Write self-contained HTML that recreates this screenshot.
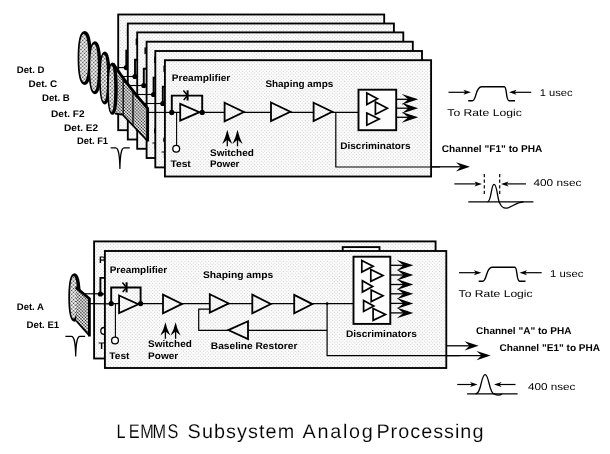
<!DOCTYPE html>
<html lang="en"><head><meta charset="utf-8"><title>LEMMS Subsystem Analog Processing</title>
<style>html,body{margin:0;padding:0;background:#fff}svg{display:block;will-change:transform;filter:grayscale(1)}text{fill:#000;text-rendering:geometricPrecision}</style></head><body>
<svg width="610" height="454" viewBox="0 0 610 454">
<defs>
<pattern id="lt" width="2.4" height="2.4" patternUnits="userSpaceOnUse" patternTransform="rotate(45)"><rect width="2.4" height="2.4" fill="#fdfdfd"/><circle cx="1.2" cy="1.2" r="0.58" fill="#cbcbcb"/></pattern>
<pattern id="dk" width="2.2" height="2.2" patternUnits="userSpaceOnUse" patternTransform="rotate(45)"><rect width="2.2" height="2.2" fill="#fff"/><circle cx="1.1" cy="1.1" r="0.82" fill="#111"/></pattern>
<pattern id="md" width="2.6" height="2.6" patternUnits="userSpaceOnUse" patternTransform="rotate(45)"><rect width="2.6" height="2.6" fill="#fff"/><circle cx="1.3" cy="1.3" r="0.82" fill="#383838"/></pattern>
</defs>
<rect width="610" height="454" fill="#fff"/>
<rect x="118.2" y="14.5" width="266.0" height="115.7" fill="url(#lt)" stroke="#000" stroke-width="1.85"/>
<clipPath id="ct0"><rect x="118.2" y="14.5" width="266.0" height="115.7"/></clipPath>
<g clip-path="url(#ct0)">
<g transform="translate(-45.5 -44.8)">
<text x="171.8" y="80.8" font-size="9.6" font-weight="bold" font-family='"Liberation Sans", sans-serif' textLength="58.5" lengthAdjust="spacingAndGlyphs" >Preamplifier</text>
<path d="M171.8 112.4L171.8 95.6L202.2 95.6L202.2 112.4" stroke="#000" stroke-width="1.9" fill="none" />
<path d="M187.6 90.3L187.6 100.5" stroke="#000" stroke-width="2.0" fill="none" />
<path d="M183.4 90.6L187.6 95.6L183.7 100" stroke="#000" stroke-width="1.5" fill="none" />
<path d="M176.6 112.4L176.6 145.3" stroke="#000" stroke-width="1.1" fill="none" />
<circle cx="176.2" cy="148.8" r="3.4" fill="#fff" stroke="#000" stroke-width="1.3"/>
<text x="170.4" y="166.7" font-size="9.6" font-weight="bold" font-family='"Liberation Sans", sans-serif' textLength="20.4" lengthAdjust="spacingAndGlyphs" >Test</text>
<path d="M171.8 112.4L358.5 112.4" stroke="#000" stroke-width="1.35" fill="none" />
<path d="M180.2 103.8L199.5 112.2L180.2 120.6Z" fill="url(#lt)" stroke="#000" stroke-width="1.8" stroke-linejoin="miter"/>
<circle cx="171.8" cy="112.4" r="2.6" fill="#000"/>
<circle cx="202.2" cy="112.4" r="2.6" fill="#000"/>
</g>
</g>
<rect x="127.8" y="23.5" width="266.1" height="116.0" fill="url(#lt)" stroke="#000" stroke-width="1.85"/>
<clipPath id="ct1"><rect x="127.8" y="23.5" width="266.1" height="116.0"/></clipPath>
<g clip-path="url(#ct1)">
<g transform="translate(-36.8 -35.9)">
<text x="171.8" y="80.8" font-size="9.6" font-weight="bold" font-family='"Liberation Sans", sans-serif' textLength="58.5" lengthAdjust="spacingAndGlyphs" >Preamplifier</text>
<path d="M171.8 112.4L171.8 95.6L202.2 95.6L202.2 112.4" stroke="#000" stroke-width="1.9" fill="none" />
<path d="M187.6 90.3L187.6 100.5" stroke="#000" stroke-width="2.0" fill="none" />
<path d="M183.4 90.6L187.6 95.6L183.7 100" stroke="#000" stroke-width="1.5" fill="none" />
<path d="M176.6 112.4L176.6 145.3" stroke="#000" stroke-width="1.1" fill="none" />
<circle cx="176.2" cy="148.8" r="3.4" fill="#fff" stroke="#000" stroke-width="1.3"/>
<text x="170.4" y="166.7" font-size="9.6" font-weight="bold" font-family='"Liberation Sans", sans-serif' textLength="20.4" lengthAdjust="spacingAndGlyphs" >Test</text>
<path d="M171.8 112.4L358.5 112.4" stroke="#000" stroke-width="1.35" fill="none" />
<path d="M180.2 103.8L199.5 112.2L180.2 120.6Z" fill="url(#lt)" stroke="#000" stroke-width="1.8" stroke-linejoin="miter"/>
<circle cx="171.8" cy="112.4" r="2.6" fill="#000"/>
<circle cx="202.2" cy="112.4" r="2.6" fill="#000"/>
</g>
</g>
<rect x="137.2" y="32.4" width="266.1" height="116.4" fill="url(#lt)" stroke="#000" stroke-width="1.85"/>
<clipPath id="ct2"><rect x="137.2" y="32.4" width="266.1" height="116.4"/></clipPath>
<g clip-path="url(#ct2)">
<g transform="translate(-28.0 -26.9)">
<text x="171.8" y="80.8" font-size="9.6" font-weight="bold" font-family='"Liberation Sans", sans-serif' textLength="58.5" lengthAdjust="spacingAndGlyphs" >Preamplifier</text>
<path d="M171.8 112.4L171.8 95.6L202.2 95.6L202.2 112.4" stroke="#000" stroke-width="1.9" fill="none" />
<path d="M187.6 90.3L187.6 100.5" stroke="#000" stroke-width="2.0" fill="none" />
<path d="M183.4 90.6L187.6 95.6L183.7 100" stroke="#000" stroke-width="1.5" fill="none" />
<path d="M176.6 112.4L176.6 145.3" stroke="#000" stroke-width="1.1" fill="none" />
<circle cx="176.2" cy="148.8" r="3.4" fill="#fff" stroke="#000" stroke-width="1.3"/>
<text x="170.4" y="166.7" font-size="9.6" font-weight="bold" font-family='"Liberation Sans", sans-serif' textLength="20.4" lengthAdjust="spacingAndGlyphs" >Test</text>
<path d="M171.8 112.4L358.5 112.4" stroke="#000" stroke-width="1.35" fill="none" />
<path d="M180.2 103.8L199.5 112.2L180.2 120.6Z" fill="url(#lt)" stroke="#000" stroke-width="1.8" stroke-linejoin="miter"/>
<circle cx="171.8" cy="112.4" r="2.6" fill="#000"/>
<circle cx="202.2" cy="112.4" r="2.6" fill="#000"/>
</g>
</g>
<rect x="146.6" y="41.7" width="266.2" height="116.3" fill="url(#lt)" stroke="#000" stroke-width="1.85"/>
<clipPath id="ct3"><rect x="146.6" y="41.7" width="266.2" height="116.3"/></clipPath>
<g clip-path="url(#ct3)">
<g transform="translate(-18.2 -17.9)">
<text x="171.8" y="80.8" font-size="9.6" font-weight="bold" font-family='"Liberation Sans", sans-serif' textLength="58.5" lengthAdjust="spacingAndGlyphs" >Preamplifier</text>
<path d="M171.8 112.4L171.8 95.6L202.2 95.6L202.2 112.4" stroke="#000" stroke-width="1.9" fill="none" />
<path d="M187.6 90.3L187.6 100.5" stroke="#000" stroke-width="2.0" fill="none" />
<path d="M183.4 90.6L187.6 95.6L183.7 100" stroke="#000" stroke-width="1.5" fill="none" />
<path d="M176.6 112.4L176.6 145.3" stroke="#000" stroke-width="1.1" fill="none" />
<circle cx="176.2" cy="148.8" r="3.4" fill="#fff" stroke="#000" stroke-width="1.3"/>
<text x="170.4" y="166.7" font-size="9.6" font-weight="bold" font-family='"Liberation Sans", sans-serif' textLength="20.4" lengthAdjust="spacingAndGlyphs" >Test</text>
<path d="M171.8 112.4L358.5 112.4" stroke="#000" stroke-width="1.35" fill="none" />
<path d="M180.2 103.8L199.5 112.2L180.2 120.6Z" fill="url(#lt)" stroke="#000" stroke-width="1.8" stroke-linejoin="miter"/>
<circle cx="171.8" cy="112.4" r="2.6" fill="#000"/>
<circle cx="202.2" cy="112.4" r="2.6" fill="#000"/>
</g>
</g>
<rect x="155.3" y="51.0" width="266.7" height="116.4" fill="url(#lt)" stroke="#000" stroke-width="1.85"/>
<clipPath id="ct4"><rect x="155.3" y="51.0" width="266.7" height="116.4"/></clipPath>
<g clip-path="url(#ct4)">
<g transform="translate(-9.0 -8.9)">
<text x="171.8" y="80.8" font-size="9.6" font-weight="bold" font-family='"Liberation Sans", sans-serif' textLength="58.5" lengthAdjust="spacingAndGlyphs" >Preamplifier</text>
<path d="M171.8 112.4L171.8 95.6L202.2 95.6L202.2 112.4" stroke="#000" stroke-width="1.9" fill="none" />
<path d="M187.6 90.3L187.6 100.5" stroke="#000" stroke-width="2.0" fill="none" />
<path d="M183.4 90.6L187.6 95.6L183.7 100" stroke="#000" stroke-width="1.5" fill="none" />
<path d="M176.6 112.4L176.6 145.3" stroke="#000" stroke-width="1.1" fill="none" />
<circle cx="176.2" cy="148.8" r="3.4" fill="#fff" stroke="#000" stroke-width="1.3"/>
<text x="170.4" y="166.7" font-size="9.6" font-weight="bold" font-family='"Liberation Sans", sans-serif' textLength="20.4" lengthAdjust="spacingAndGlyphs" >Test</text>
<path d="M171.8 112.4L358.5 112.4" stroke="#000" stroke-width="1.35" fill="none" />
<path d="M180.2 103.8L199.5 112.2L180.2 120.6Z" fill="url(#lt)" stroke="#000" stroke-width="1.8" stroke-linejoin="miter"/>
<circle cx="171.8" cy="112.4" r="2.6" fill="#000"/>
<circle cx="202.2" cy="112.4" r="2.6" fill="#000"/>
</g>
</g>
<rect x="164.9" y="60.2" width="266.2" height="116.3" fill="url(#lt)" stroke="#000" stroke-width="1.85"/>
<clipPath id="ct5"><rect x="164.9" y="60.2" width="266.2" height="116.3"/></clipPath>
<g>
<g transform="translate(0.0 0.0)">
<text x="171.8" y="80.8" font-size="9.6" font-weight="bold" font-family='"Liberation Sans", sans-serif' textLength="58.5" lengthAdjust="spacingAndGlyphs" >Preamplifier</text>
<path d="M171.8 112.4L171.8 95.6L202.2 95.6L202.2 112.4" stroke="#000" stroke-width="1.9" fill="none" />
<path d="M187.6 90.3L187.6 100.5" stroke="#000" stroke-width="2.0" fill="none" />
<path d="M183.4 90.6L187.6 95.6L183.7 100" stroke="#000" stroke-width="1.5" fill="none" />
<path d="M176.6 112.4L176.6 145.3" stroke="#000" stroke-width="1.1" fill="none" />
<circle cx="176.2" cy="148.8" r="3.4" fill="#fff" stroke="#000" stroke-width="1.3"/>
<text x="170.4" y="166.7" font-size="9.6" font-weight="bold" font-family='"Liberation Sans", sans-serif' textLength="20.4" lengthAdjust="spacingAndGlyphs" >Test</text>
<path d="M171.8 112.4L358.5 112.4" stroke="#000" stroke-width="1.35" fill="none" />
<path d="M180.2 103.8L199.5 112.2L180.2 120.6Z" fill="url(#lt)" stroke="#000" stroke-width="1.8" stroke-linejoin="miter"/>
<circle cx="171.8" cy="112.4" r="2.6" fill="#000"/>
<circle cx="202.2" cy="112.4" r="2.6" fill="#000"/>
<path d="M224.6 102.7L243.9 112.0L224.6 121.3Z" fill="url(#lt)" stroke="#000" stroke-width="1.8" stroke-linejoin="miter"/>
<path d="M271.0 102.5L290.3 111.8L271.0 121.0Z" fill="url(#lt)" stroke="#000" stroke-width="1.8" stroke-linejoin="miter"/>
<path d="M313.6 102.7L332.2 111.8L313.6 121.0Z" fill="url(#lt)" stroke="#000" stroke-width="1.8" stroke-linejoin="miter"/>
<path d="M227.3 129.7Q228.8 136.7 232.3 143.9L227.3 139.7L222.3 143.9Q225.8 136.7 227.3 129.7Z" fill="#000"/>
<path d="M227.3 138.9L227.3 146.3" stroke="#000" stroke-width="1.3" fill="none" />
<path d="M237.5 129.7Q239.0 136.7 242.5 143.9L237.5 139.7L232.5 143.9Q236.0 136.7 237.5 129.7Z" fill="#000"/>
<path d="M237.5 138.9L237.5 146.3" stroke="#000" stroke-width="1.3" fill="none" />
<text x="210.0" y="156.0" font-size="9.6" font-weight="bold" font-family='"Liberation Sans", sans-serif' textLength="43.8" lengthAdjust="spacingAndGlyphs" >Switched</text>
<text x="210.0" y="167.4" font-size="9.6" font-weight="bold" font-family='"Liberation Sans", sans-serif' textLength="29.4" lengthAdjust="spacingAndGlyphs" >Power</text>
<text x="265.4" y="86.5" font-size="9.6" font-weight="bold" font-family='"Liberation Sans", sans-serif' textLength="67.9" lengthAdjust="spacingAndGlyphs" >Shaping amps</text>
<path d="M335.8 112.4L335.8 167L440 167" stroke="#000" stroke-width="1.2" fill="none" />
<rect x="358.5" y="89.7" width="37.7" height="40.5" fill="#fdfdfd" stroke="#000" stroke-width="1.9"/>
<path d="M366.8 92.9L377.5 98.7L366.8 104.5Z" fill="#fdfdfd" stroke="#000" stroke-width="1.7" stroke-linejoin="miter"/>
<path d="M375.4 102.0L387.4 108.2L375.4 114.4Z" fill="#fdfdfd" stroke="#000" stroke-width="1.7" stroke-linejoin="miter"/>
<path d="M366.8 113.0L379.2 119.1L366.8 125.2Z" fill="#fdfdfd" stroke="#000" stroke-width="1.7" stroke-linejoin="miter"/>
<path d="M396.2 99.3L409.9 99.3" stroke="#000" stroke-width="1.3" fill="none" />
<path d="M418.2 99.3L401.7 93.9L408.3 99.3L401.7 104.7Z" fill="#000"/>
<path d="M396.2 108.2L409.9 108.2" stroke="#000" stroke-width="1.3" fill="none" />
<path d="M418.2 108.2L401.7 102.8L408.3 108.2L401.7 113.6Z" fill="#000"/>
<path d="M396.2 117.3L409.9 117.3" stroke="#000" stroke-width="1.3" fill="none" />
<path d="M418.2 117.3L401.7 111.9L408.3 117.3L401.7 122.7Z" fill="#000"/>
<text x="340.2" y="149.4" font-size="9.6" font-weight="bold" font-family='"Liberation Sans", sans-serif' textLength="70.3" lengthAdjust="spacingAndGlyphs" >Discriminators</text>
</g>
</g>
<path d="M431.0 166.8L463.0 166.8" stroke="#000" stroke-width="1.3" fill="none" />
<path d="M470.0 166.8L456.0 162.2L460.9 166.8L456.0 171.4Z" fill="#000"/>
<path d="M118.0 67.6L126.3 67.6" stroke="#000" stroke-width="1.1" fill="none" />
<path d="M123.0 76.5L135.0 76.5" stroke="#000" stroke-width="1.1" fill="none" />
<path d="M129.6 85.5L143.8 85.5" stroke="#000" stroke-width="1.1" fill="none" />
<path d="M136.5 94.5L153.6 94.5" stroke="#000" stroke-width="1.1" fill="none" />
<path d="M143.6 103.5L162.8 103.5" stroke="#000" stroke-width="1.1" fill="none" />
<path d="M149.0 112.4L171.8 112.4" stroke="#000" stroke-width="1.1" fill="none" />
<path d="M84.7 31.0C89.4 31.0 91.8 40.2 91.8 58.0C91.8 75.8 89.4 85.0 84.7 85.0C80.0 85.0 77.6 75.8 77.6 58.0C77.6 40.2 80.0 31.0 84.7 31.0Z" fill="#000"/>
<path d="M83.8 34.0C86.6 34.0 88.3 43.1 88.3 58.0C88.3 72.9 86.6 82.0 83.8 82.0C81.0 82.0 79.3 72.9 79.3 58.0C79.3 43.1 81.0 34.0 83.8 34.0Z" fill="url(#md)"/>
<path d="M95.0 41.2C99.2 41.2 101.4 50.2 101.4 67.7C101.4 85.2 99.2 94.2 95.0 94.2C90.7 94.2 88.5 85.2 88.5 67.7C88.5 50.2 90.7 41.2 95.0 41.2Z" fill="#000"/>
<path d="M94.1 44.2C96.4 44.2 97.9 53.1 97.9 67.7C97.9 82.3 96.4 91.2 94.1 91.2C91.7 91.2 90.2 82.3 90.2 67.7C90.2 53.1 91.7 44.2 94.1 44.2Z" fill="url(#md)"/>
<path d="M104.8 51.5C108.6 51.5 110.6 60.5 110.6 78.0C110.6 95.5 108.6 104.5 104.8 104.5C101.1 104.5 99.1 95.5 99.1 78.0C99.1 60.5 101.1 51.5 104.8 51.5Z" fill="#000"/>
<path d="M103.9 54.5C105.9 54.5 107.1 63.4 107.1 78.0C107.1 92.6 105.9 101.5 103.9 101.5C102.0 101.5 100.8 92.6 100.8 78.0C100.8 63.4 102.0 54.5 103.9 54.5Z" fill="url(#md)"/>
<path d="M113.5 64.5Q128 86 147.6 108.4L147.6 141L122.6 114.6L114.5 113.6Z" fill="url(#dk)" stroke="none"/>
<path d="M112.5 62.5C115.9 62.5 117.7 71.4 117.7 88.7C117.7 105.9 115.9 114.8 112.5 114.8C109.0 114.8 107.2 105.9 107.2 88.7C107.2 71.4 109.0 62.5 112.5 62.5Z" fill="#000"/>
<path d="M111.6 65.5C113.2 65.5 114.2 74.3 114.2 88.7C114.2 103.0 113.2 111.8 111.6 111.8C109.9 111.8 108.9 103.0 108.9 88.7C108.9 74.3 109.9 65.5 111.6 65.5Z" fill="url(#md)"/>
<path d="M113.0 63.5Q128 86 147.6 108.4L147.6 141.6" stroke="#000" stroke-width="2.9" fill="none" stroke-linejoin="miter"/>
<path d="M147.6 141L122.6 114.6L115 113.6" stroke="#000" stroke-width="1.7" fill="none" />
<path d="M123.2 78.0L123.2 115.0" stroke="#000" stroke-width="1.3" fill="none" />
<path d="M133.0 90.0L133.0 126.0" stroke="#000" stroke-width="1.3" fill="none" />
<path d="M110.7 147.8L115.6 147.8C118.9 147.8 119.6 156 119.9 169C120.2 156 120.9 147.8 124.2 147.8L129.8 147.8" stroke="#000" stroke-width="1.2" fill="none" />
<text x="16.8" y="73.0" font-size="9.6" font-weight="bold" font-family='"Liberation Sans", sans-serif' textLength="27.6" lengthAdjust="spacingAndGlyphs" >Det. D</text>
<text x="28.6" y="86.5" font-size="9.6" font-weight="bold" font-family='"Liberation Sans", sans-serif' textLength="28.6" lengthAdjust="spacingAndGlyphs" >Det. C</text>
<text x="42.0" y="100.6" font-size="9.6" font-weight="bold" font-family='"Liberation Sans", sans-serif' textLength="27.8" lengthAdjust="spacingAndGlyphs" >Det. B</text>
<text x="51.0" y="116.6" font-size="9.6" font-weight="bold" font-family='"Liberation Sans", sans-serif' textLength="33.6" lengthAdjust="spacingAndGlyphs" >Det. F2</text>
<text x="64.0" y="131.0" font-size="9.6" font-weight="bold" font-family='"Liberation Sans", sans-serif' textLength="34.2" lengthAdjust="spacingAndGlyphs" >Det. E2</text>
<text x="77.0" y="143.8" font-size="9.6" font-weight="bold" font-family='"Liberation Sans", sans-serif' textLength="31.0" lengthAdjust="spacingAndGlyphs" >Det. F1</text>
<g transform="translate(0.0 0.0)">
<path d="M468.2 100.8L472.3 100.8C476.5 100.8 475.3 86.8 481.5 86.8L504.3 86.8C507.2 86.8 505.6 100.8 509.2 100.8L515 100.8" stroke="#000" stroke-width="1.4" fill="none" />
<path d="M448.5 92.3L467.1 92.3" stroke="#000" stroke-width="1.2" fill="none" />
<path d="M470.9 92.3L463.4 89.8L465.3 92.3L463.4 94.8Z" fill="#000"/>
<path d="M531.2 92.3L512.8 92.3" stroke="#000" stroke-width="1.2" fill="none" />
<path d="M509.0 92.3L516.5 89.8L514.6 92.3L516.5 94.8Z" fill="#000"/>
</g>
<text x="539.8" y="95.9" font-size="9.9" font-weight="normal" font-family='"Liberation Sans", sans-serif' textLength="32.8" lengthAdjust="spacingAndGlyphs" >1 usec</text>
<text x="447.3" y="116.1" font-size="10.0" font-weight="normal" font-family='"Liberation Sans", sans-serif' textLength="74.5" lengthAdjust="spacingAndGlyphs" >To Rate Logic</text>
<text x="441.8" y="152.2" font-size="9.8" font-weight="bold" font-family='"Liberation Sans", sans-serif' textLength="100.5" lengthAdjust="spacingAndGlyphs" >Channel &quot;F1&quot; to PHA</text>
<path d="M468.3 201.9L533.4 201.9" stroke="#000" stroke-width="1.2" fill="none" />
<path d="M487.5 201.9C491.5 201.9 491 184.4 494 184.4C497 184.4 497 196 499.2 201.9C501.5 207.5 503.5 208.3 506.5 208.1C512 207.8 515 202.2 523.6 201.9" stroke="#000" stroke-width="1.3" fill="none" />
<path d="M484.3 174.0L484.3 196.0" stroke="#000" stroke-width="1.2" fill="none" stroke-dasharray="3.2 2.4"/>
<path d="M499.7 174.0L499.7 196.0" stroke="#000" stroke-width="1.2" fill="none" stroke-dasharray="3.2 2.4"/>
<path d="M454.3 183.9L478.2 183.9" stroke="#000" stroke-width="1.2" fill="none" />
<path d="M482.0 183.9L474.5 181.4L476.4 183.9L474.5 186.4Z" fill="#000"/>
<path d="M526.0 183.9L504.8 183.9" stroke="#000" stroke-width="1.2" fill="none" />
<path d="M501.0 183.9L508.5 181.4L506.6 183.9L508.5 186.4Z" fill="#000"/>
<text x="533.4" y="186.4" font-size="9.9" font-weight="normal" font-family='"Liberation Sans", sans-serif' textLength="48.0" lengthAdjust="spacingAndGlyphs" >400 nsec</text>
<rect x="94.1" y="241.4" width="341.5" height="117.1" fill="url(#lt)" stroke="#000" stroke-width="1.85"/>
<clipPath id="cb0"><rect x="94.1" y="241.4" width="341.5" height="117.1"/></clipPath>
<g clip-path="url(#cb0)">
<g transform="translate(-10.8 -9.6)">
<text x="109.7" y="272.7" font-size="9.6" font-weight="bold" font-family='"Liberation Sans", sans-serif' textLength="57.5" lengthAdjust="spacingAndGlyphs" >Preamplifier</text>
<path d="M111.2 303.6L111.2 287.5L140.6 287.5L140.6 303.6" stroke="#000" stroke-width="1.9" fill="none" />
<path d="M126.6 282.3L126.6 292.4" stroke="#000" stroke-width="2.0" fill="none" />
<path d="M122.4 282.6L126.6 287.6L122.7 292" stroke="#000" stroke-width="1.5" fill="none" />
<path d="M115.4 303.6L115.4 337.0" stroke="#000" stroke-width="1.1" fill="none" />
<circle cx="115.0" cy="340.5" r="3.4" fill="#fff" stroke="#000" stroke-width="1.3"/>
<text x="109.3" y="359.0" font-size="9.6" font-weight="bold" font-family='"Liberation Sans", sans-serif' textLength="20.2" lengthAdjust="spacingAndGlyphs" >Test</text>
<path d="M111.2 303.6L353.5 303.6" stroke="#000" stroke-width="1.35" fill="none" />
<path d="M119.1 295.5L138.3 304.2L119.1 313.0Z" fill="url(#lt)" stroke="#000" stroke-width="1.8" stroke-linejoin="miter"/>
<circle cx="111.2" cy="303.6" r="2.6" fill="#000"/>
<circle cx="140.6" cy="303.6" r="2.6" fill="#000"/>
<path d="M163.0 294.6L182.0 303.9L163.0 313.2Z" fill="url(#lt)" stroke="#000" stroke-width="1.8" stroke-linejoin="miter"/>
<path d="M209.8 294.2L228.8 303.4L209.8 312.6Z" fill="url(#lt)" stroke="#000" stroke-width="1.8" stroke-linejoin="miter"/>
<path d="M252.3 294.6L270.8 304.0L252.3 313.4Z" fill="url(#lt)" stroke="#000" stroke-width="1.8" stroke-linejoin="miter"/>
<path d="M294.2 294.9L312.4 304.1L294.2 313.4Z" fill="url(#lt)" stroke="#000" stroke-width="1.8" stroke-linejoin="miter"/>
<path d="M165.4 322.2Q166.9 329.2 170.4 335.6L165.4 331.4L160.4 335.6Q163.9 329.2 165.4 322.2Z" fill="#000"/>
<path d="M165.4 330.6L165.4 338.8" stroke="#000" stroke-width="1.3" fill="none" />
<path d="M175.6 322.2Q177.1 329.2 180.6 335.6L175.6 331.4L170.6 335.6Q174.1 329.2 175.6 322.2Z" fill="#000"/>
<path d="M175.6 330.6L175.6 338.8" stroke="#000" stroke-width="1.3" fill="none" />
<text x="148.1" y="347.0" font-size="9.6" font-weight="bold" font-family='"Liberation Sans", sans-serif' textLength="43.7" lengthAdjust="spacingAndGlyphs" >Switched</text>
<text x="148.1" y="359.0" font-size="9.6" font-weight="bold" font-family='"Liberation Sans", sans-serif' textLength="30.1" lengthAdjust="spacingAndGlyphs" >Power</text>
<text x="202.9" y="277.6" font-size="9.6" font-weight="bold" font-family='"Liberation Sans", sans-serif' textLength="70.3" lengthAdjust="spacingAndGlyphs" >Shaping amps</text>
<text x="210.8" y="349.4" font-size="9.6" font-weight="bold" font-family='"Liberation Sans", sans-serif' textLength="86.6" lengthAdjust="spacingAndGlyphs" >Baseline Restorer</text>
<path d="M209.8 309.2L198.7 309.2L198.7 330.3L228.3 330.3" stroke="#000" stroke-width="1.2" fill="none" />
<path d="M248.0 330.3L327.1 330.3" stroke="#000" stroke-width="1.2" fill="none" />
<path d="M248.0 321.2L228.3 330.1L248.0 339.0Z" fill="url(#lt)" stroke="#000" stroke-width="1.8"/>
<path d="M327.1 303.6L327.1 355.6L470.8 355.6" stroke="#000" stroke-width="1.2" fill="none" />
<circle cx="327.1" cy="303.6" r="1.4" fill="#000"/>
<rect x="353.5" y="256.7" width="36.8" height="67.2" fill="#fdfdfd" stroke="#000" stroke-width="1.9"/>
<path d="M361.8 260.4L373.1 266.2L361.8 272.0Z" fill="#fdfdfd" stroke="#000" stroke-width="1.7" stroke-linejoin="miter"/>
<path d="M370.8 269.5L383.0 275.4L370.8 281.3Z" fill="#fdfdfd" stroke="#000" stroke-width="1.7" stroke-linejoin="miter"/>
<path d="M362.4 280.7L372.6 286.4L362.4 292.0Z" fill="#fdfdfd" stroke="#000" stroke-width="1.7" stroke-linejoin="miter"/>
<path d="M371.2 290.0L383.0 295.8L371.2 301.6Z" fill="#fdfdfd" stroke="#000" stroke-width="1.7" stroke-linejoin="miter"/>
<path d="M363.6 300.4L373.8 305.9L363.6 311.4Z" fill="#fdfdfd" stroke="#000" stroke-width="1.7" stroke-linejoin="miter"/>
<path d="M373.1 308.6L385.5 314.5L373.1 320.3Z" fill="#fdfdfd" stroke="#000" stroke-width="1.7" stroke-linejoin="miter"/>
<path d="M390.3 265.3L405.1 265.3" stroke="#000" stroke-width="1.3" fill="none" />
<path d="M413.3 265.3L396.8 259.9L403.4 265.3L396.8 270.7Z" fill="#000"/>
<path d="M390.3 275.0L405.1 275.0" stroke="#000" stroke-width="1.3" fill="none" />
<path d="M413.3 275.0L396.8 269.6L403.4 275.0L396.8 280.4Z" fill="#000"/>
<path d="M390.3 284.5L405.1 284.5" stroke="#000" stroke-width="1.3" fill="none" />
<path d="M413.3 284.5L396.8 279.1L403.4 284.5L396.8 289.9Z" fill="#000"/>
<path d="M390.3 293.8L405.1 293.8" stroke="#000" stroke-width="1.3" fill="none" />
<path d="M413.3 293.8L396.8 288.4L403.4 293.8L396.8 299.2Z" fill="#000"/>
<path d="M390.3 303.4L405.1 303.4" stroke="#000" stroke-width="1.3" fill="none" />
<path d="M413.3 303.4L396.8 298.0L403.4 303.4L396.8 308.8Z" fill="#000"/>
<path d="M390.3 312.9L405.1 312.9" stroke="#000" stroke-width="1.3" fill="none" />
<path d="M413.3 312.9L396.8 307.5L403.4 312.9L396.8 318.3Z" fill="#000"/>
<text x="346.0" y="337.4" font-size="9.6" font-weight="bold" font-family='"Liberation Sans", sans-serif' textLength="70.8" lengthAdjust="spacingAndGlyphs" >Discriminators</text>
</g>
</g>
<path d="M440.0 345.8L471.6 345.8" stroke="#000" stroke-width="1.3" fill="none" />
<path d="M478.6 345.8L464.6 341.2L469.5 345.8L464.6 350.4Z" fill="#000"/>
<rect x="104.9" y="251.0" width="341.4" height="117.0" fill="url(#lt)" stroke="#000" stroke-width="1.85"/>
<g transform="translate(0.0 0.0)">
<text x="109.7" y="272.7" font-size="9.6" font-weight="bold" font-family='"Liberation Sans", sans-serif' textLength="57.5" lengthAdjust="spacingAndGlyphs" >Preamplifier</text>
<path d="M111.2 303.6L111.2 287.5L140.6 287.5L140.6 303.6" stroke="#000" stroke-width="1.9" fill="none" />
<path d="M126.6 282.3L126.6 292.4" stroke="#000" stroke-width="2.0" fill="none" />
<path d="M122.4 282.6L126.6 287.6L122.7 292" stroke="#000" stroke-width="1.5" fill="none" />
<path d="M115.4 303.6L115.4 337.0" stroke="#000" stroke-width="1.1" fill="none" />
<circle cx="115.0" cy="340.5" r="3.4" fill="#fff" stroke="#000" stroke-width="1.3"/>
<text x="109.3" y="359.0" font-size="9.6" font-weight="bold" font-family='"Liberation Sans", sans-serif' textLength="20.2" lengthAdjust="spacingAndGlyphs" >Test</text>
<path d="M111.2 303.6L353.5 303.6" stroke="#000" stroke-width="1.35" fill="none" />
<path d="M119.1 295.5L138.3 304.2L119.1 313.0Z" fill="url(#lt)" stroke="#000" stroke-width="1.8" stroke-linejoin="miter"/>
<circle cx="111.2" cy="303.6" r="2.6" fill="#000"/>
<circle cx="140.6" cy="303.6" r="2.6" fill="#000"/>
<path d="M163.0 294.6L182.0 303.9L163.0 313.2Z" fill="url(#lt)" stroke="#000" stroke-width="1.8" stroke-linejoin="miter"/>
<path d="M209.8 294.2L228.8 303.4L209.8 312.6Z" fill="url(#lt)" stroke="#000" stroke-width="1.8" stroke-linejoin="miter"/>
<path d="M252.3 294.6L270.8 304.0L252.3 313.4Z" fill="url(#lt)" stroke="#000" stroke-width="1.8" stroke-linejoin="miter"/>
<path d="M294.2 294.9L312.4 304.1L294.2 313.4Z" fill="url(#lt)" stroke="#000" stroke-width="1.8" stroke-linejoin="miter"/>
<path d="M165.4 322.2Q166.9 329.2 170.4 335.6L165.4 331.4L160.4 335.6Q163.9 329.2 165.4 322.2Z" fill="#000"/>
<path d="M165.4 330.6L165.4 338.8" stroke="#000" stroke-width="1.3" fill="none" />
<path d="M175.6 322.2Q177.1 329.2 180.6 335.6L175.6 331.4L170.6 335.6Q174.1 329.2 175.6 322.2Z" fill="#000"/>
<path d="M175.6 330.6L175.6 338.8" stroke="#000" stroke-width="1.3" fill="none" />
<text x="148.1" y="347.0" font-size="9.6" font-weight="bold" font-family='"Liberation Sans", sans-serif' textLength="43.7" lengthAdjust="spacingAndGlyphs" >Switched</text>
<text x="148.1" y="359.0" font-size="9.6" font-weight="bold" font-family='"Liberation Sans", sans-serif' textLength="30.1" lengthAdjust="spacingAndGlyphs" >Power</text>
<text x="202.9" y="277.6" font-size="9.6" font-weight="bold" font-family='"Liberation Sans", sans-serif' textLength="70.3" lengthAdjust="spacingAndGlyphs" >Shaping amps</text>
<text x="210.8" y="349.4" font-size="9.6" font-weight="bold" font-family='"Liberation Sans", sans-serif' textLength="86.6" lengthAdjust="spacingAndGlyphs" >Baseline Restorer</text>
<path d="M209.8 309.2L198.7 309.2L198.7 330.3L228.3 330.3" stroke="#000" stroke-width="1.2" fill="none" />
<path d="M248.0 330.3L327.1 330.3" stroke="#000" stroke-width="1.2" fill="none" />
<path d="M248.0 321.2L228.3 330.1L248.0 339.0Z" fill="url(#lt)" stroke="#000" stroke-width="1.8"/>
<path d="M327.1 303.6L327.1 355.6L460.0 355.6" stroke="#000" stroke-width="1.2" fill="none" />
<circle cx="327.1" cy="303.6" r="1.4" fill="#000"/>
<rect x="353.5" y="256.7" width="36.8" height="67.2" fill="#fdfdfd" stroke="#000" stroke-width="1.9"/>
<path d="M361.8 260.4L373.1 266.2L361.8 272.0Z" fill="#fdfdfd" stroke="#000" stroke-width="1.7" stroke-linejoin="miter"/>
<path d="M370.8 269.5L383.0 275.4L370.8 281.3Z" fill="#fdfdfd" stroke="#000" stroke-width="1.7" stroke-linejoin="miter"/>
<path d="M362.4 280.7L372.6 286.4L362.4 292.0Z" fill="#fdfdfd" stroke="#000" stroke-width="1.7" stroke-linejoin="miter"/>
<path d="M371.2 290.0L383.0 295.8L371.2 301.6Z" fill="#fdfdfd" stroke="#000" stroke-width="1.7" stroke-linejoin="miter"/>
<path d="M363.6 300.4L373.8 305.9L363.6 311.4Z" fill="#fdfdfd" stroke="#000" stroke-width="1.7" stroke-linejoin="miter"/>
<path d="M373.1 308.6L385.5 314.5L373.1 320.3Z" fill="#fdfdfd" stroke="#000" stroke-width="1.7" stroke-linejoin="miter"/>
<path d="M390.3 265.3L405.1 265.3" stroke="#000" stroke-width="1.3" fill="none" />
<path d="M413.3 265.3L396.8 259.9L403.4 265.3L396.8 270.7Z" fill="#000"/>
<path d="M390.3 275.0L405.1 275.0" stroke="#000" stroke-width="1.3" fill="none" />
<path d="M413.3 275.0L396.8 269.6L403.4 275.0L396.8 280.4Z" fill="#000"/>
<path d="M390.3 284.5L405.1 284.5" stroke="#000" stroke-width="1.3" fill="none" />
<path d="M413.3 284.5L396.8 279.1L403.4 284.5L396.8 289.9Z" fill="#000"/>
<path d="M390.3 293.8L405.1 293.8" stroke="#000" stroke-width="1.3" fill="none" />
<path d="M413.3 293.8L396.8 288.4L403.4 293.8L396.8 299.2Z" fill="#000"/>
<path d="M390.3 303.4L405.1 303.4" stroke="#000" stroke-width="1.3" fill="none" />
<path d="M413.3 303.4L396.8 298.0L403.4 303.4L396.8 308.8Z" fill="#000"/>
<path d="M390.3 312.9L405.1 312.9" stroke="#000" stroke-width="1.3" fill="none" />
<path d="M413.3 312.9L396.8 307.5L403.4 312.9L396.8 318.3Z" fill="#000"/>
<text x="346.0" y="337.4" font-size="9.6" font-weight="bold" font-family='"Liberation Sans", sans-serif' textLength="70.8" lengthAdjust="spacingAndGlyphs" >Discriminators</text>
</g>
<path d="M446.0 355.6L483.6 355.6" stroke="#000" stroke-width="1.3" fill="none" />
<path d="M490.6 355.6L476.6 351.0L481.5 355.6L476.6 360.2Z" fill="#000"/>
<path d="M84.0 293.8L100.4 293.8" stroke="#000" stroke-width="1.2" fill="none" />
<path d="M89.4 303.6L111.2 303.8" stroke="#000" stroke-width="1.2" fill="none" />
<path d="M74.5 273.3C78.6 273.3 80.7 281.5 80.7 297.6C80.7 313.6 78.6 321.8 74.5 321.8C70.4 321.8 68.3 313.6 68.3 297.6C68.3 281.5 70.4 273.3 74.5 273.3Z" fill="#000"/>
<path d="M73.6 276.3C75.8 276.3 77.2 284.4 77.2 297.6C77.2 310.7 75.8 318.8 73.6 318.8C71.4 318.8 70.0 310.7 70.0 297.6C70.0 284.4 71.4 276.3 73.6 276.3Z" fill="url(#md)"/>
<path d="M76.2 288L89.4 298.6L89.4 335.6L76.2 320.8Z" fill="url(#dk)"/>
<path d="M75.8 287.2L89.4 298.6L89.4 336.4" stroke="#000" stroke-width="2.8" fill="none" stroke-linejoin="miter"/>
<path d="M89.4 335.6L76.4 321" stroke="#000" stroke-width="1.8" fill="none" />
<path d="M65.4 336.3L71.3 336.3C74.7 336.3 75.4 344 75.7 356.5C76 344 76.7 336.3 80.1 336.3L85.1 336.3" stroke="#000" stroke-width="1.2" fill="none" />
<text x="16.8" y="309.6" font-size="9.6" font-weight="bold" font-family='"Liberation Sans", sans-serif' textLength="27.1" lengthAdjust="spacingAndGlyphs" >Det. A</text>
<text x="26.6" y="327.6" font-size="9.6" font-weight="bold" font-family='"Liberation Sans", sans-serif' textLength="32.6" lengthAdjust="spacingAndGlyphs" >Det. E1</text>
<g transform="translate(10.5 180.4)">
<path d="M468.2 100.8L472.3 100.8C476.5 100.8 475.3 86.8 481.5 86.8L504.3 86.8C507.2 86.8 505.6 100.8 509.2 100.8L515 100.8" stroke="#000" stroke-width="1.4" fill="none" />
<path d="M448.5 92.3L467.1 92.3" stroke="#000" stroke-width="1.2" fill="none" />
<path d="M470.9 92.3L463.4 89.8L465.3 92.3L463.4 94.8Z" fill="#000"/>
<path d="M531.2 92.3L512.8 92.3" stroke="#000" stroke-width="1.2" fill="none" />
<path d="M509.0 92.3L516.5 89.8L514.6 92.3L516.5 94.8Z" fill="#000"/>
</g>
<text x="550.0" y="276.6" font-size="9.9" font-weight="normal" font-family='"Liberation Sans", sans-serif' textLength="33.4" lengthAdjust="spacingAndGlyphs" >1 usec</text>
<text x="458.6" y="296.6" font-size="10.0" font-weight="normal" font-family='"Liberation Sans", sans-serif' textLength="74.0" lengthAdjust="spacingAndGlyphs" >To Rate Logic</text>
<text x="476.0" y="334.4" font-size="9.8" font-weight="bold" font-family='"Liberation Sans", sans-serif' textLength="95.5" lengthAdjust="spacingAndGlyphs" >Channel &quot;A&quot; to PHA</text>
<text x="499.5" y="350.7" font-size="9.8" font-weight="bold" font-family='"Liberation Sans", sans-serif' textLength="100.6" lengthAdjust="spacingAndGlyphs" >Channel &quot;E1&quot; to PHA</text>
<path d="M467.1 393.9L517.6 393.9" stroke="#000" stroke-width="1.2" fill="none" />
<path d="M475.5 393.9C481.5 393.9 481 374.6 485.1 374.6C489.2 374.6 489 393.9 494.5 394.2C497 395.3 500 395.3 502 394" stroke="#000" stroke-width="1.3" fill="none" />
<path d="M457.2 384.5L473.9 384.5" stroke="#000" stroke-width="1.2" fill="none" />
<path d="M477.6 384.5L470.1 382.0L472.0 384.5L470.1 387.0Z" fill="#000"/>
<path d="M515.5 384.5L497.8 384.5" stroke="#000" stroke-width="1.2" fill="none" />
<path d="M494.0 384.5L501.5 382.0L499.6 384.5L501.5 387.0Z" fill="#000"/>
<text x="527.9" y="390.1" font-size="9.9" font-weight="normal" font-family='"Liberation Sans", sans-serif' textLength="47.6" lengthAdjust="spacingAndGlyphs" >400 nsec</text>
<g>
<text transform="translate(116.5 438.1) scale(0.82 1)" x="0 14.9 29.0 44.0 62.2" y="0" font-size="19.8" font-family='"Liberation Sans", sans-serif' stroke="#fff" stroke-width="0.12" paint-order="fill stroke">LEMMS</text>
<text x="187.6" y="438.1" font-size="19.8" font-weight="normal" font-family='"Liberation Sans", sans-serif' textLength="106.6" lengthAdjust="spacing" stroke="#fff" stroke-width="0.12" paint-order="fill stroke">Subsystem</text>
<text x="302.6" y="438.1" font-size="19.8" font-weight="normal" font-family='"Liberation Sans", sans-serif' textLength="70.2" lengthAdjust="spacing" stroke="#fff" stroke-width="0.12" paint-order="fill stroke">Analog</text>
<text x="376.4" y="438.1" font-size="19.8" font-weight="normal" font-family='"Liberation Sans", sans-serif' textLength="107.0" lengthAdjust="spacing" stroke="#fff" stroke-width="0.12" paint-order="fill stroke">Processing</text>
</g>
</svg></body></html>
